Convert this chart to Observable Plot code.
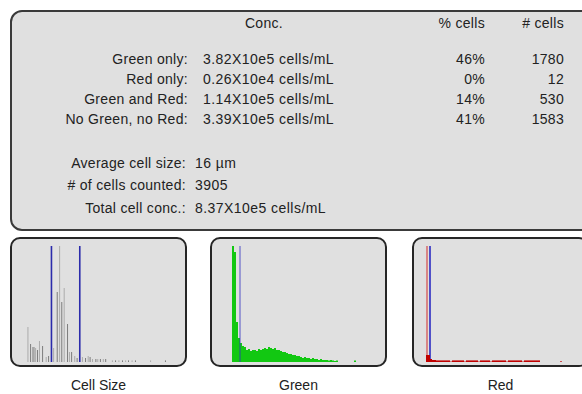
<!DOCTYPE html>
<html>
<head>
<meta charset="utf-8">
<script src="https://cdn.jsdelivr.net/npm/d3@7"></script>
<script src="https://cdn.jsdelivr.net/npm/@observablehq/plot@0.6"></script>
<style>
html, body { margin: 0; padding: 0; background: #ffffff; }
body { width: 582px; height: 394px; overflow: hidden; position: relative;
  font-family: "Liberation Sans", Arial, Helvetica, sans-serif; font-size: 14px; color: #222; }
.box { position: absolute; box-sizing: border-box; background: #e0e0e0; }
#summary { left: 10px; top: 10px; width: 620px; height: 221px; border: 2px solid #3a3a3a; border-radius: 12px; }
.panel { top: 237px; width: 177px; height: 130px; border: 2px solid #262626; border-radius: 10px; overflow: hidden; }
.panel svg { display: block; }
.t { position: absolute; line-height: 16px; white-space: nowrap; letter-spacing: 0.3px; }
.v { letter-spacing: 0.45px; }
.cap { position: absolute; top: 377px; width: 177px; text-align: center; line-height: 16px; }
</style>
</head>
<body>
<div id="summary" class="box"></div>
<div id="pCell" class="box panel" style="left:10px"></div>
<div id="pGreen" class="box panel" style="left:210px"></div>
<div id="pRed" class="box panel" style="left:412px"></div>
<script>
// ---- table data ----
const headers = ["Conc.", "% cells", "# cells"];
const rowLabels = ["Green only:", "Red only:", "Green and Red:", "No Green, no Red:"];
const concValues = ["3.82X10e5 cells/mL", "0.26X10e4 cells/mL", "1.14X10e5 cells/mL", "3.39X10e5 cells/mL"];
const pctCells = ["46%", "0%", "14%", "41%"];
const numCells = [1780, 12, 530, 1583];
const summaryLabels = ["Average cell size:", "# of cells counted:", "Total cell conc.:"];
const summaryValues = ["16 µm", "3905", "8.37X10e5 cells/mL"];
const panelTitles = ["Cell Size", "Green", "Red"];

// ---- histogram data ----
const cellSizeUm = [3.1, 4.2, 5.0, 5.6, 6.3, 7.1, 7.9, 9.2, 10.7, 11.7, 13.8, 15.3, 16.3, 17.2, 18.2, 19.6, 20.4, 21.3, 22.6, 23.6,
  25.8, 27.1, 28.2, 29.0, 30.0, 31.4, 32.2, 33.3, 34.5, 35.5, 38.3, 39.6, 41.0, 42.5, 43.8, 45.0, 46.5, 47.9, 54.2, 60.4];
const cellSizeCounts = [175, 90, 75, 75, 70, 60, 105, 80, 25, 30, 70, 350, 580, 300, 370, 190, 50, 50, 30, 20,
  25, 20, 30, 25, 15, 15, 15, 15, 15, 15, 8, 8, 8, 8, 8, 8, 8, 8, 8, 8];
const cellSizeGates = [12.9, 24.7];

const greenBinWidth = 4;
const greenCounts = [116, 110, 40, 24, 19, 16, 15, 12, 13, 11, 12, 12, 11, 13, 12, 13, 14, 13, 15, 14,
  13, 14, 12, 12, 11, 10, 10, 9, 8, 8, 7, 7, 6, 6, 5, 4, 5, 4, 4, 3,
  4, 3, 3, 2, 3, 2, 2, 2, 1.5, 2, 1.5, 1, 1.5, 0, 0, 0, 0, 0, 0, 0, 0, 1.5];
const greenGate = [15];

const redBinWidth = 4;
const redCounts = [116, 7, 3, 2,
  2, 1.5, 1.5, 1.5, 1.5, 1.5, 1.5, 1.5, 0.6, 1.5, 1.5, 1.5, 1.5, 1.5, 1.5, 0.6, 1.5, 1.5, 1.5, 1.5, 1.5, 1.5, 0.6,
  1.5, 1.5, 1.5, 1.5, 1.5, 0.6, 1.5, 1.5, 1.5, 1.5, 1.5, 1.5, 1.5, 0.6, 1.5, 1.5, 1.5, 1.5, 1.5, 1.5, 1.5, 0.6,
  1.5, 1.5, 1.5, 1.5, 1.5, 1.5, 1.5, 1.5,
  0, 0, 0, 0, 0, 0, 0, 0, 0, 0, 1];
const redGate = [7];

// ---- table text ----
function addText(str, style, cls) {
  const el = document.createElement("div");
  el.className = "t" + (cls ? " " + cls : "");
  el.textContent = str;
  Object.assign(el.style, style);
  document.body.appendChild(el);
}
const W = 582;
addText(headers[0], {left: "214px", width: "100px", textAlign: "center", top: "15px"});
addText(headers[1], {right: (W - 485) + "px", top: "15px"});
addText(headers[2], {right: (W - 564) + "px", top: "15px"});
rowLabels.forEach((lab, i) => {
  const top = (51 + i * 20) + "px";
  addText(lab, {right: (W - 188) + "px", top});
  addText(concValues[i], {left: "203px", top}, "v");
  addText(pctCells[i], {right: (W - 485) + "px", top});
  addText(String(numCells[i]), {right: (W - 564) + "px", top});
});
const sumTops = [155, 177, 200];
summaryLabels.forEach((lab, i) => {
  addText(lab, {right: (W - 186) + "px", top: sumTops[i] + "px"});
  addText(summaryValues[i], {left: "195px", top: sumTops[i] + "px"}, "v");
});
[10, 210, 412].forEach((left, i) => {
  const el = document.createElement("div");
  el.className = "cap";
  el.style.left = left + "px";
  el.textContent = panelTitles[i];
  document.body.appendChild(el);
});

// ---- histograms ----
const common = {width: 173, height: 126, marginTop: 7, marginBottom: 3,
  style: {background: "transparent"}, color: {type: "identity"}};

const cellData = cellSizeUm.map((um, i) => ({um, count: cellSizeCounts[i]}));
document.getElementById("pCell").appendChild(Plot.plot({
  ...common, marginLeft: 8, marginRight: 9,
  x: {domain: [0, 65], axis: null},
  y: {domain: [0, d3.max(cellSizeCounts)], axis: null},
  marks: [
    Plot.ruleX(cellData, {x: "um", y1: 0, y2: "count", stroke: (d, i) => i % 2 ? "#7c7c7c" : "#ababab", strokeWidth: 1}),
    Plot.ruleX(cellSizeGates, {stroke: "#2b2bab", strokeWidth: 1.6})
  ]
}));

const greenBins = greenCounts.map((count, i) => ({c0: i * greenBinWidth, c1: (i + 1) * greenBinWidth, count}));
document.getElementById("pGreen").appendChild(Plot.plot({
  ...common, marginLeft: 20, marginRight: 25,
  x: {domain: [0, 256], axis: null},
  y: {domain: [0, d3.max(greenCounts)], axis: null},
  marks: [
    Plot.rectY(greenBins, {x1: "c0", x2: "c1", y: "count", fill: "#12c812"}),
    Plot.ruleX(greenGate, {stroke: "#3030c0", strokeOpacity: 0.4, strokeWidth: 2})
  ]
}));

const redBins = redCounts.map((count, i) => ({c0: i * redBinWidth, c1: (i + 1) * redBinWidth, count}));
document.getElementById("pRed").appendChild(Plot.plot({
  ...common, marginLeft: 12, marginRight: 11,
  x: {domain: [0, 300], axis: null},
  y: {domain: [0, d3.max(redCounts)], axis: null},
  marks: [
    Plot.rectY(redBins, {x1: "c0", x2: "c1", y: "count", fill: "#cc0000", fillOpacity: 0.4}),
    Plot.ruleX(redGate, {stroke: "#2020c0", strokeWidth: 1.5}),
    Plot.rectY(redBins, {x1: "c0", x2: "c1", y: d => Math.min(d.count, 7), fill: "#c00000", fillOpacity: d => d.count < 1.2 ? 0.4 : 1})
  ]
}));
</script>
</body>
</html>
